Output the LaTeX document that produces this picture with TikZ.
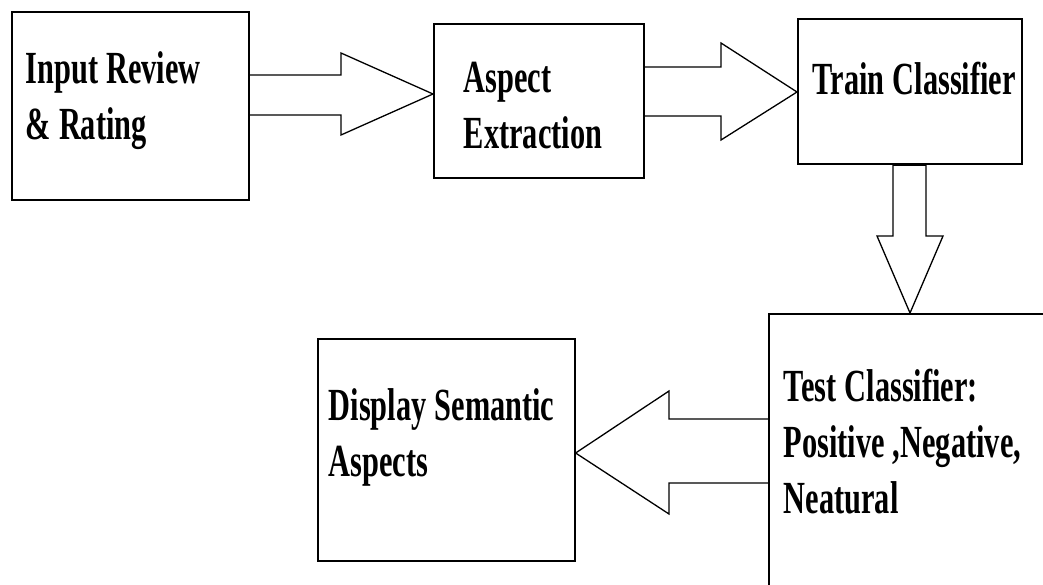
\documentclass[tikz,border=0pt]{standalone}
\usepackage{fontspec}
\setmainfont[FakeStretch=0.66]{Liberation Serif}
\begin{document}
\begin{tikzpicture}[x=1pt, y=-1pt,
    stage/.style={draw, line width=1.6pt, anchor=north west, inner sep=0pt, align=left,
        font=\fontsize{46}{56}\selectfont\bfseries},
    pad/.style={execute at begin node={\leftskip=#1pt\spaceskip=8pt\hyphenpenalty=10000}},
    blockarrow/.style={line width=1.3pt, line join=miter}]
    \useasboundingbox (0,0) rectangle (1043,585);
    \clip (0,0) rectangle (1043,585);
    \node[stage, pad=14, text width=237pt, text height=72pt, text depth=116pt] (input) at (11,11) {Input Review\\\& Rating};
    \node[stage, pad=30, text width=210pt, text height=69pt, text depth=85pt] (aspect) at (433,23) {Aspect\\Extraction};
    \node[stage, pad=15, text width=224pt, text height=76pt, text depth=69pt] (train) at (797,18) {Train Classifier};
    \node[stage, pad=15, text width=302pt, text height=88pt, text depth=219pt] (test) at (768,313) {Test Classifier:\\Positive ,Negative,\\Neatural};
    \node[stage, pad=11, text width=257pt, text height=82pt, text depth=140pt] (display) at (317,338) {Display Semantic\\Aspects};
    \draw[blockarrow] (input.east |- 0,75) -- (341,75) -- (341,53) -- (aspect.west |- 0,94) -- (341,135) -- (341,115) -- (input.east |- 0,115);
    \draw[blockarrow] (aspect.east |- 0,67) -- (721,67) -- (721,43) -- (train.west |- 0,92) -- (721,140) -- (721,116) -- (aspect.east |- 0,116);
    \draw[blockarrow] (train.south -| 893,0) -- (893,236) -- (877,236) -- (test.north -| 910,0) -- (943,236) -- (926,236) -- (train.south -| 926,0) -- cycle;
    \draw[line width=3pt] (train.south -| 893,0) -- (train.south -| 926,0);
    \draw[blockarrow] (test.west |- 0,419) -- (669,419) -- (669,391) -- (display.east |- 0,453) -- (669,514) -- (669,483) -- (test.west |- 0,483);
\end{tikzpicture}
\end{document}
